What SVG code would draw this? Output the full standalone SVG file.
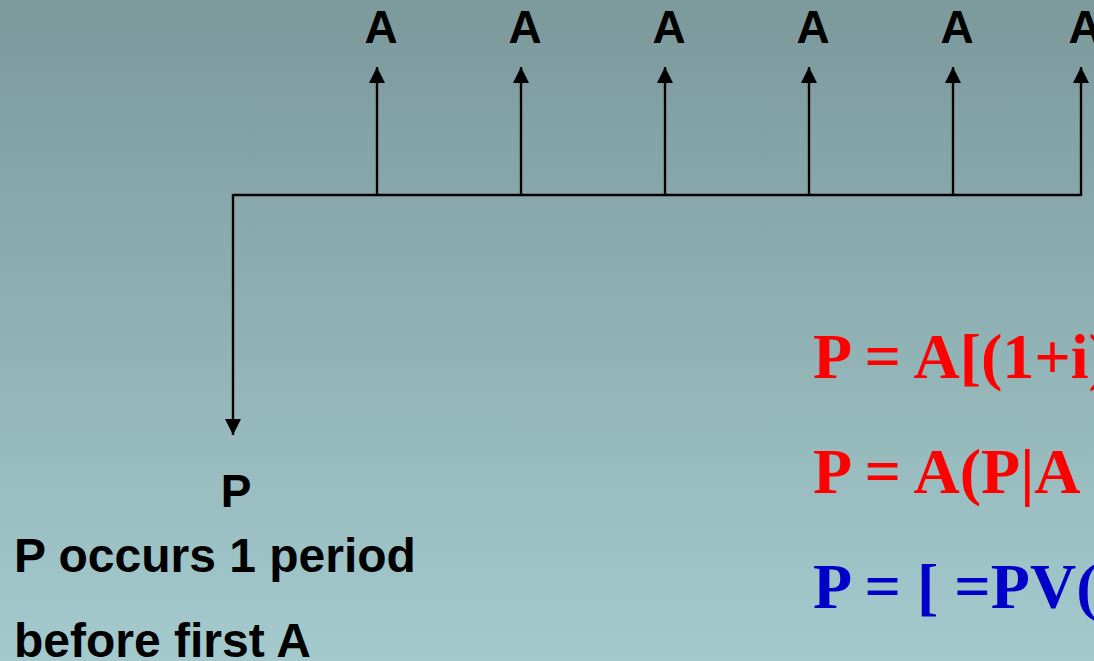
<svg xmlns="http://www.w3.org/2000/svg" width="1094" height="661" viewBox="0 0 1094 661">
<defs>
<linearGradient id="bg" x1="0" y1="0" x2="0" y2="1">
<stop offset="0" stop-color="#7c999c"/>
<stop offset="1" stop-color="#a4cacd"/>
</linearGradient>
<marker id="ah" viewBox="0 0 16 16" refX="16" refY="8" markerWidth="16" markerHeight="16" markerUnits="userSpaceOnUse" orient="auto">
<path d="M0,0 L16,8 L0,16 z" fill="#000"/>
</marker>
<style>
.lbl{font-family:"Liberation Sans",Arial,sans-serif;font-weight:bold;font-size:46px;fill:#000}
.note{font-size:48px}
.eq{font-family:"Liberation Serif","Times New Roman",serif;font-weight:bold;font-size:64px}
.red{fill:#ff0000}
.blue{fill:#0000c8}
.ln{stroke:#000;stroke-width:2.4;fill:none}
.arr{stroke:#000;stroke-width:2.4;fill:none;marker-end:url(#ah)}
</style>
</defs>
<rect width="1094" height="661" fill="url(#bg)"/>
<g id="connectors">
<path class="ln" d="M233,195 H1081"/>
<line class="arr" x1="377" y1="195" x2="377" y2="67"/>
<line class="arr" x1="521" y1="195" x2="521" y2="67"/>
<line class="arr" x1="665" y1="195" x2="665" y2="67"/>
<line class="arr" x1="809" y1="195" x2="809" y2="67"/>
<line class="arr" x1="953" y1="195" x2="953" y2="67"/>
<line class="arr" x1="1081" y1="196" x2="1081" y2="67"/>
<line class="arr" x1="233" y1="194" x2="233" y2="435"/>
</g>
<g id="payments">
<text class="lbl" x="381" y="43" text-anchor="middle">A</text>
<text class="lbl" x="525" y="43" text-anchor="middle">A</text>
<text class="lbl" x="669" y="43" text-anchor="middle">A</text>
<text class="lbl" x="813" y="43" text-anchor="middle">A</text>
<text class="lbl" x="957" y="43" text-anchor="middle">A</text>
<text class="lbl" x="1085" y="43" text-anchor="middle">A</text>
</g>
<g id="present">
<text class="lbl" x="236" y="507" text-anchor="middle">P</text>
</g>
<g id="note">
<text class="lbl note" x="14" y="572">P occurs 1 period</text>
<text class="lbl note" x="14" y="657">before first A</text>
</g>
<g id="formulas">
<text class="eq red" x="813" y="378">P = A[(1+i)</text>
<text class="eq red" x="813" y="493">P = A(P|A</text>
<text class="eq blue" x="813" y="608">P = [ =PV(</text>
</g>
</svg>
